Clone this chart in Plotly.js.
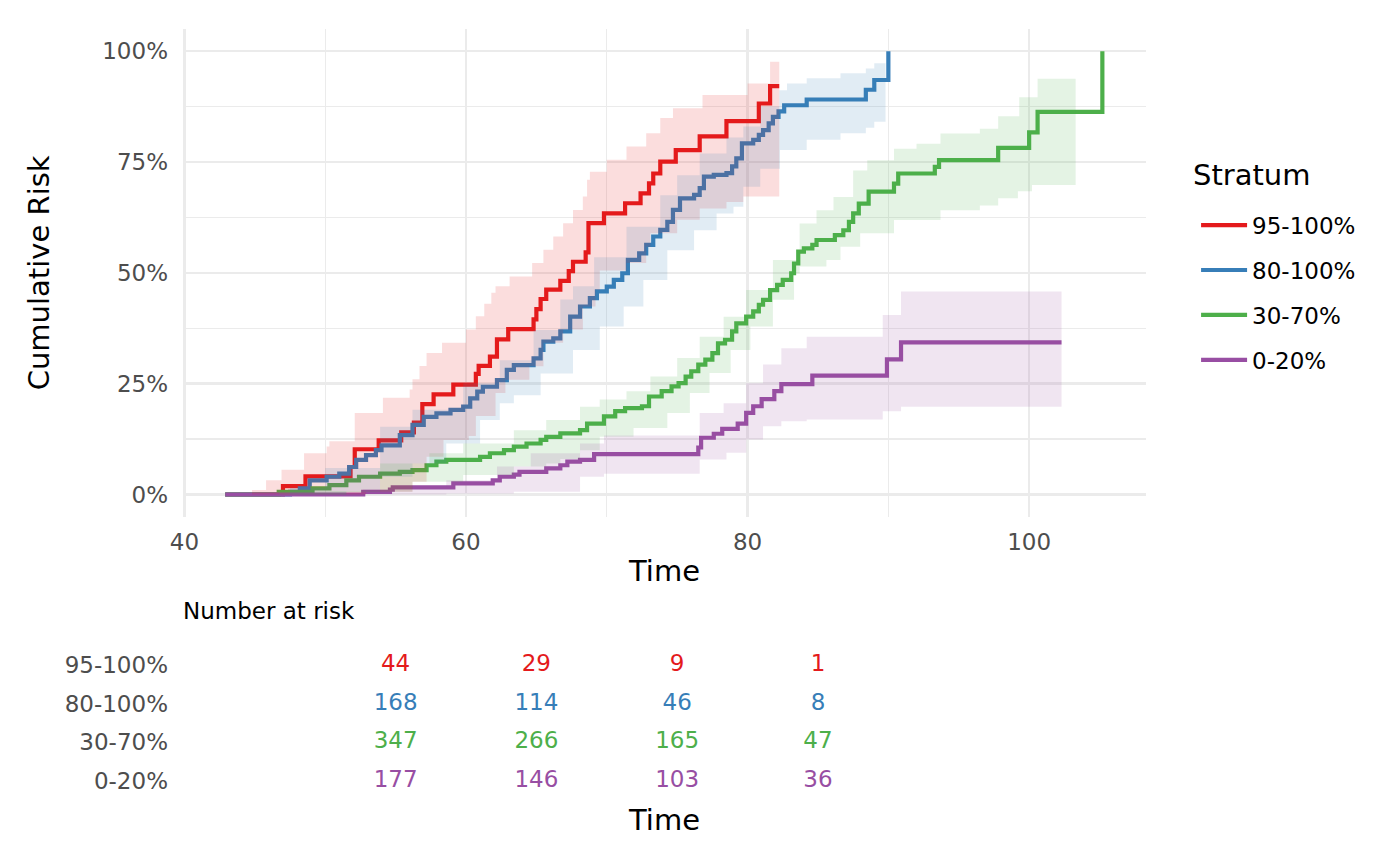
<!DOCTYPE html>
<html>
<head>
<meta charset="utf-8">
<script src="https://cdn.plot.ly/plotly-3.0.1.min.js"></script>
<style>
  html, body { margin: 0; padding: 0; background: #ffffff; }
  #chart { width: 1400px; height: 865px; }
</style>
</head>
<body>
<div id="chart"></div>
<script>
// Strata, in legend / table order
const strata = ['95-100%', '80-100%', '30-70%', '0-20%'];
const colors = ['#E41A1C', '#377EB8', '#4DAF4A', '#984EA3'];

// 95-100% : cumulative risk estimate (%) and confidence band
const time95 = [42.9, 47.0, 48.6, 51.8, 52.1, 53.8, 55.4, 56.3, 56.9, 57.7, 59.1, 60.7, 60.9, 61.7, 62.2, 63.0, 64.8, 65.0, 65.3, 65.7, 66.7, 67.3, 67.6, 68.5, 68.7, 69.8, 71.3, 72.4, 73.0, 73.3, 73.8, 74.9, 76.6, 78.5, 80.8, 81.6, 82.25];
const risk95 = [0, 1.9, 4.1, 6.2, 10.2, 12.2, 14.0, 16.2, 20.4, 22.6, 24.8, 27.2, 29.0, 31.1, 35.0, 37.3, 39.5, 41.8, 44.1, 46.2, 48.2, 50.4, 52.5, 54.6, 61.2, 63.4, 65.7, 67.9, 70.2, 72.4, 75.1, 77.7, 80.8, 84.2, 88.2, 92.1, 92.1];
const upTime95 = [42.9, 44.8, 45.8, 46.9, 48.5, 50.1, 50.3, 52.1, 54.1, 56.0, 56.2, 56.7, 57.2, 58.3, 60.0, 60.7, 61.3, 61.8, 62.1, 63.1, 64.7, 65.5, 66.2, 66.9, 67.6, 68.3, 68.6, 68.8, 70.0, 71.4, 72.8, 73.8, 74.7, 76.8, 80.0, 81.6, 82.25];
const upper95 = [0, 1.0, 3.2, 5.6, 9.3, 10.8, 12.0, 18.4, 21.8, 23.7, 26.0, 29.0, 31.9, 34.2, 37.2, 40.2, 43.0, 45.5, 47.0, 49.2, 52.2, 55.2, 58.2, 61.2, 64.2, 67.2, 71.0, 72.8, 75.5, 78.5, 81.5, 84.9, 87.1, 90.1, 92.7, 97.6, 97.6];
const loTime95 = [42.9, 52.0, 52.9, 56.2, 57.2, 58.4, 60.2, 60.7, 62.1, 62.8, 64.5, 65.5, 66.9, 68.3, 69.2, 69.5, 71.4, 72.8, 73.1, 75.0, 76.6, 78.5, 79.7, 82.25];
const lower95 = [0, 0, 0.6, 2.9, 8.5, 12.3, 13.2, 17.7, 22.9, 25.9, 28.9, 34.2, 37.2, 42.4, 46.2, 50.5, 52.2, 55.9, 58.9, 62.0, 64.5, 66.0, 67.2, 67.2];

// 80-100%
const time80 = [42.9, 47.5, 48.2, 48.9, 50.1, 51.0, 51.7, 52.2, 52.9, 53.6, 54.0, 55.3, 56.2, 57.0, 57.9, 58.9, 59.8, 60.3, 60.8, 61.2, 62.2, 62.9, 63.4, 64.8, 65.3, 65.5, 66.2, 66.7, 67.4, 68.1, 68.8, 69.3, 70.0, 70.5, 71.1, 71.5, 72.3, 72.8, 73.3, 73.8, 74.3, 74.7, 75.2, 76.2, 76.6, 76.9, 77.6, 78.5, 78.9, 79.2, 79.6, 80.4, 80.8, 81.1, 81.5, 81.8, 82.2, 82.6, 84.2, 88.4, 89.0, 90.0];
const risk80 = [0, 0.6, 1.4, 3.2, 4.0, 4.7, 6.2, 7.8, 8.9, 10.0, 11.1, 13.4, 15.7, 17.5, 18.3, 19.1, 19.8, 21.7, 23.2, 24.3, 25.8, 28.1, 29.2, 30.7, 32.6, 34.5, 35.2, 36.8, 40.1, 42.4, 44.3, 45.8, 46.9, 48.4, 49.9, 52.9, 54.4, 56.3, 58.2, 59.7, 61.5, 64.2, 66.8, 67.6, 69.1, 71.7, 72.1, 72.5, 74.0, 75.8, 79.2, 80.0, 81.1, 82.2, 83.7, 85.2, 86.4, 87.8, 89.1, 91.3, 93.5, 100];
const upTime80 = [42.9, 47.5, 50.0, 53.9, 56.2, 59.8, 62.4, 64.8, 66.7, 67.6, 69.1, 71.4, 73.8, 75.0, 76.6, 78.5, 79.7, 80.9, 82.25, 82.8, 84.2, 86.6, 88.4, 89.0, 89.8];
const upper80 = [0, 1.5, 6.0, 15.3, 19.1, 25.1, 30.3, 37.1, 44.0, 47.0, 53.5, 60.4, 67.5, 72.0, 76.9, 80.5, 83.0, 87.5, 91.2, 92.7, 93.9, 95.0, 96.1, 97.3, 97.3];
const loTime80 = [42.9, 48.6, 51.5, 53.9, 56.2, 58.6, 61.0, 62.4, 63.4, 65.3, 67.6, 69.5, 71.2, 72.6, 74.3, 76.2, 77.8, 79.0, 79.7, 80.9, 82.3, 84.2, 86.6, 88.4, 89.0, 89.8];
const lower80 = [0, 0, 0.6, 4.0, 7.0, 11.5, 16.8, 20.6, 22.4, 27.3, 32.6, 37.9, 42.4, 48.4, 55.1, 59.6, 63.4, 64.9, 69.4, 73.5, 77.7, 80.0, 81.5, 82.7, 84.1, 84.1];

// 30-70%
const time30 = [42.9, 46.7, 49.1, 50.3, 51.5, 52.4, 53.9, 55.3, 56.2, 57.2, 57.9, 58.6, 61.0, 61.7, 62.7, 63.4, 64.3, 65.3, 65.7, 66.7, 68.1, 68.6, 69.8, 70.6, 71.3, 72.5, 73.0, 73.9, 74.6, 75.1, 75.6, 76.0, 76.5, 77.0, 77.5, 77.9, 78.4, 78.9, 79.2, 79.9, 80.4, 80.8, 81.1, 81.6, 82.1, 82.5, 83.1, 83.3, 83.6, 84.0, 84.6, 84.9, 86.2, 86.8, 87.2, 87.5, 87.9, 88.6, 90.4, 90.7, 93.3, 93.6, 97.8, 100.0, 100.6, 105.2];
const risk30 = [0, 0.6, 1.4, 2.1, 3.2, 4.0, 4.7, 5.1, 5.5, 6.6, 7.4, 7.8, 8.5, 9.3, 10.0, 10.8, 11.5, 12.3, 13.0, 13.8, 14.5, 16.0, 17.6, 18.8, 19.5, 19.9, 22.1, 23.3, 24.4, 25.1, 26.6, 27.8, 29.3, 30.4, 31.9, 34.1, 34.9, 36.8, 38.6, 40.1, 41.3, 42.8, 43.9, 46.1, 47.3, 48.4, 49.9, 52.1, 54.8, 55.5, 56.3, 57.4, 58.5, 59.6, 61.5, 63.4, 65.6, 68.3, 70.1, 72.4, 73.9, 75.4, 78.2, 81.7, 86.3, 100];
const upTime30 = [42.9, 46.7, 53.9, 57.4, 59.8, 63.4, 65.7, 68.1, 69.5, 71.4, 73.1, 75.0, 76.6, 78.3, 79.9, 81.8, 83.7, 84.9, 86.1, 87.5, 88.5, 90.4, 92.0, 93.7, 96.5, 97.8, 99.3, 100.6, 103.3];
const upper30 = [0, 0.8, 7.0, 9.3, 11.5, 14.5, 16.8, 19.8, 21.4, 23.3, 26.6, 30.8, 35.6, 40.1, 46.1, 52.9, 61.1, 64.1, 67.1, 73.1, 75.4, 78.0, 79.1, 81.4, 82.5, 85.3, 89.6, 93.8, 93.8];
const loTime30 = [42.9, 49.5, 51.5, 56.2, 59.8, 63.4, 65.7, 66.7, 68.1, 69.5, 71.9, 74.3, 75.9, 77.3, 78.8, 80.2, 81.8, 83.3, 83.7, 85.6, 86.6, 88.0, 90.4, 93.7, 96.5, 97.8, 99.2, 100.2, 103.3];
const lower30 = [0, 0, 0.6, 2.9, 4.4, 6.3, 7.0, 8.0, 10.0, 13.0, 15.0, 18.4, 22.9, 27.4, 32.6, 37.9, 43.9, 49.9, 51.4, 52.9, 55.9, 58.9, 61.9, 64.1, 65.2, 66.8, 68.4, 69.8, 69.8];

// 0-20%
const time0 = [42.9, 52.7, 54.6, 54.8, 59.1, 61.9, 62.4, 63.4, 63.8, 65.7, 66.7, 67.2, 68.1, 69.1, 76.5, 76.7, 77.6, 78.2, 79.3, 79.9, 80.4, 81.0, 81.9, 82.4, 84.6, 89.9, 90.9, 102.3];
const risk0 = [0, 0.6, 1.1, 1.6, 2.5, 3.2, 4.0, 4.5, 5.1, 5.9, 6.6, 7.4, 7.8, 9.1, 10.6, 12.8, 13.7, 14.8, 16.0, 18.4, 19.9, 21.5, 23.3, 24.9, 26.8, 30.5, 34.3, 34.3];
const upTime0 = [42.9, 52.7, 56.2, 58.6, 62.2, 64.6, 68.1, 69.8, 76.6, 78.3, 79.9, 81.1, 82.4, 84.2, 89.6, 90.9, 102.3];
const upper0 = [0, 1.1, 1.7, 3.2, 6.3, 9.3, 11.5, 13.3, 18.4, 20.6, 25.1, 29.3, 33.0, 35.6, 40.5, 45.8, 45.8];
const loTime0 = [42.9, 58.6, 63.4, 68.1, 69.8, 76.6, 78.5, 79.9, 81.1, 82.4, 84.2, 89.6, 90.9, 102.3];
const lower0 = [0, 0.2, 0.6, 4.0, 4.7, 7.9, 9.4, 12.4, 15.4, 16.5, 16.9, 18.8, 19.8, 19.8];

// Number at risk table
const riskTimes = [55, 65, 75, 85];
const atRisk95 = [44, 29, 9, 1];
const atRisk80 = [168, 114, 46, 8];
const atRisk30 = [347, 266, 165, 47];
const atRisk0 = [177, 146, 103, 36];

const curves = [
  { t: time95, y: risk95, ut: upTime95, u: upper95, lt: loTime95, l: lower95, n: atRisk95 },
  { t: time80, y: risk80, ut: upTime80, u: upper80, lt: loTime80, l: lower80, n: atRisk80 },
  { t: time30, y: risk30, ut: upTime30, u: upper30, lt: loTime30, l: lower30, n: atRisk30 },
  { t: time0,  y: risk0,  ut: upTime0,  u: upper0,  lt: loTime0,  l: lower0,  n: atRisk0 }
];

const FONT = 'DejaVu Sans, Verdana, sans-serif';
const GRID = '#EBEBEB';
const TICK = '#4D4D4D';
const xRange = [39.9, 108.3];

function fillColor(hex, a) {
  const r = parseInt(hex.slice(1, 3), 16), g = parseInt(hex.slice(3, 5), 16), b = parseInt(hex.slice(5, 7), 16);
  return `rgba(${r},${g},${b},${a})`;
}

const data = [];

// step lines first (ribbons are laid over them, as in the original)
curves.forEach((c, i) => {
  data.push({
    x: c.t, y: c.y, type: 'scatter', mode: 'lines',
    name: strata[i], legendgroup: strata[i],
    line: { color: colors[i], width: 4.2, shape: 'hv' },
    hoverinfo: 'skip'
  });
});

// confidence ribbons
curves.forEach((c, i) => {
  data.push({
    x: c.lt, y: c.l, type: 'scatter', mode: 'lines',
    line: { width: 0, shape: 'hv' },
    showlegend: false, legendgroup: strata[i], hoverinfo: 'skip'
  });
  data.push({
    x: c.ut, y: c.u, type: 'scatter', mode: 'lines',
    line: { width: 0, shape: 'hv' },
    fill: 'tonexty', fillcolor: fillColor(colors[i], 0.15),
    showlegend: false, legendgroup: strata[i], hoverinfo: 'skip'
  });
});

// risk table
curves.forEach((c, i) => {
  data.push({
    x: riskTimes, y: riskTimes.map(() => strata[i]),
    xaxis: 'x2', yaxis: 'y2',
    type: 'scatter', mode: 'text', text: c.n.map(String),
    textposition: 'middle center',
    textfont: { family: FONT, size: 23, color: colors[i] },
    showlegend: false, hoverinfo: 'skip'
  });
});

const layout = {
  width: 1400, height: 865,
  margin: { l: 183, r: 254, t: 29, b: 64.5 },
  paper_bgcolor: '#ffffff', plot_bgcolor: '#ffffff',
  font: { family: FONT, size: 23, color: '#000000' },
  hovermode: false,
  showlegend: true,
  xaxis: {
    domain: [0, 1], anchor: 'y', range: xRange,
    tick0: 0, dtick: 20, ticks: '', ticklabelstandoff: 9,
    tickfont: { size: 23, color: TICK },
    showgrid: true, gridcolor: GRID, gridwidth: 2.6,
    minor: { dtick: 10, showgrid: true, gridcolor: GRID, gridwidth: 1.4 },
    zeroline: false, showline: false,
    title: { text: 'Time', font: { size: 29, color: '#000000' }, standoff: 7 }
  },
  yaxis: {
    domain: [0.3675, 1], anchor: 'x', range: [-5, 105],
    tick0: 0, dtick: 25, ticksuffix: '%', ticks: '', ticklabelstandoff: 14,
    tickfont: { size: 23, color: TICK },
    showgrid: true, gridcolor: GRID, gridwidth: 2.6,
    minor: { dtick: 12.5, showgrid: true, gridcolor: GRID, gridwidth: 1.4 },
    zeroline: false, showline: false,
    title: { text: 'Cumulative Risk', font: { size: 29, color: '#000000' }, standoff: 44 }
  },
  xaxis2: {
    domain: [0, 1], anchor: 'y2', range: xRange,
    showticklabels: false, showgrid: false, zeroline: false, showline: false, ticks: '',
    title: { text: 'Time', font: { size: 29, color: '#000000' }, standoff: 9 }
  },
  yaxis2: {
    domain: [0, 0.1996], anchor: 'x2', type: 'category',
    categoryorder: 'array', categoryarray: strata, range: [3.5, -0.5],
    showgrid: false, zeroline: false, showline: false, ticks: '', ticklabelstandoff: 14,
    tickfont: { size: 23, color: TICK }
  },
  legend: {
    x: 1.052, xanchor: 'left', y: 0.7735, yanchor: 'top',
    bgcolor: 'rgba(0,0,0,0)',
    font: { size: 23, color: '#000000' },
    tracegroupgap: 12, itemwidth: 46
  },
  annotations: [
    {
      text: 'Number at risk', xref: 'paper', yref: 'paper',
      x: 0, y: 0.2447, xanchor: 'left', yanchor: 'middle', xshift: -2, showarrow: false,
      font: { size: 23, color: '#000000' }
    },
    {
      text: 'Stratum', xref: 'paper', yref: 'paper',
      x: 1.0467, y: 0.8101, xanchor: 'left', yanchor: 'middle', showarrow: false,
      font: { size: 29, color: '#000000' }
    }
  ]
};

Plotly.newPlot('chart', data, layout, { displayModeBar: false, staticPlot: true });
</script>
</body>
</html>
